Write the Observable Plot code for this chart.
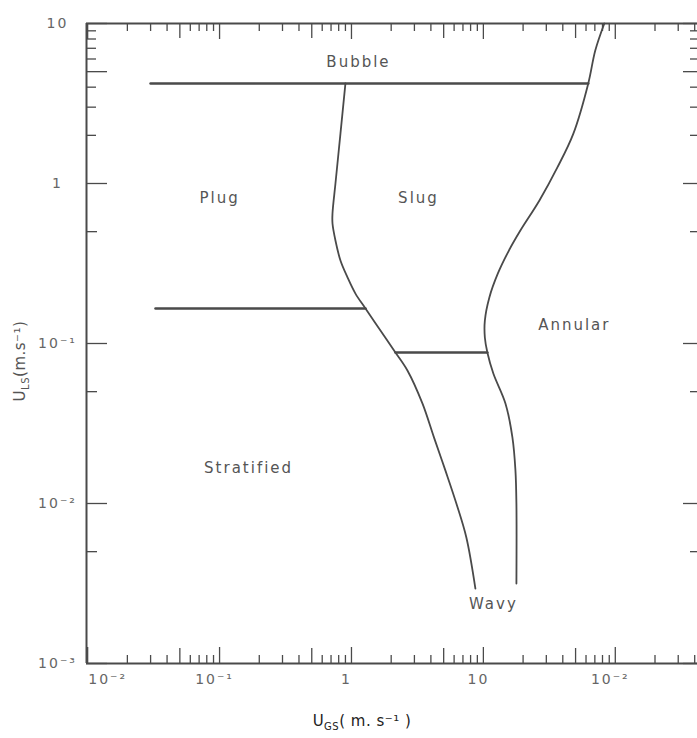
<!DOCTYPE html>
<html><head><meta charset="utf-8">
<script src="https://cdn.jsdelivr.net/npm/d3@7"></script>
<script src="https://cdn.jsdelivr.net/npm/@observablehq/plot@0.6"></script>
<style>
body{margin:0;background:#fff}
#chart svg text{letter-spacing:2px}
#chart svg text.axis-title{letter-spacing:0.5px}
</style>
</head><body><div id="chart"></div>
<script>
// ---- data ----
const regionNames = ["Bubble", "Plug", "Slug", "Annular", "Stratified", "Wavy"];
const regionX = [1.13, 0.1, 3.22, 48.9, 0.166, 11.9];
const regionY = [5.71, 0.806, 0.806, 0.1296, 0.01655, 0.00234];

const leftCurveX = [0.900, 0.825, 0.756, 0.718, 0.718, 0.756, 0.825, 0.933, 1.072, 1.277, 1.658, 2.154, 2.656, 3.45, 4.22, 5.15, 6.24, 7.43, 8.70];
const leftCurveY = [4.22, 2.05, 1.0, 0.650, 0.562, 0.440, 0.330, 0.259, 0.205, 0.1655, 0.1205, 0.0879, 0.0678, 0.0422, 0.0259, 0.0161, 0.0100, 0.00613, 0.00294];

const rightCurveX = [82.6, 70.5, 62.4, 48.1, 36.4, 26.6, 19.07, 15.61, 12.88, 11.10, 10.26, 10.26, 10.72, 11.9, 14.7, 16.6, 17.5, 17.8, 17.8];
const rightCurveY = [10.0, 6.78, 4.22, 2.05, 1.26, 0.783, 0.508, 0.381, 0.274, 0.194, 0.139, 0.109, 0.0879, 0.0649, 0.0422, 0.0259, 0.0161, 0.0100, 0.00316];

const bubbleLineX = [0.030, 62.4];
const bubbleLineY = [4.22, 4.22];
const stratLineX = [0.0327, 1.277];
const stratLineY = [0.1655, 0.1655];
const wavyLineX = [2.154, 10.72];
const wavyLineY = [0.0879, 0.0879];

const xMajor = [0.01, 0.1, 1, 10, 100];
const xTickLabels = ["10⁻²", "10⁻¹", "1", "10", "10⁻²"];
const yMajor = [0.001, 0.01, 0.1, 1, 10];
const yTickLabels = ["10⁻³", "10⁻²", "10⁻¹", "1", "10"];
const xDomain = [0.0098, 420];
const yDomain = [0.001, 10];

// minor tick values (log axis subdivisions)
const xDecades = [0.01, 0.1, 1, 10, 100];
const xHalf = xDecades.map(d => d * 5).filter(v => v < xDomain[1]);
const xMinor = xDecades.flatMap(d => [2, 3, 4, 6, 7, 8, 9].map(m => d * m)).filter(v => v < xDomain[1]);
const yHalfShort = [0.005, 0.05, 0.5];
const yHalfLong = [5];
const yMinor = [2, 3, 4, 6, 7, 8, 9];

// ---- layout ----
const W = 697, H = 738, mL = 86, mR = 0, mT = 23, mB = 75;
const fw = W - mL - mR, fh = H - mT - mB;
const ink = "#4a4a4a";
const font = "DejaVu Sans, sans-serif";

const pts = (xs, ys) => xs.map((x, i) => ({x, y: ys[i]})).sort((a, b) => a.y - b.y);

const tickX = (vals, len, where) => Plot.ruleX(vals, {x: d => d, stroke: ink, strokeWidth: 1.3,
  ...(where === "bottom" ? {insetTop: fh - len} : {insetBottom: fh - len})});
const tickY = (vals, len, where) => Plot.ruleY(vals, {y: d => d, stroke: ink, strokeWidth: 1.3,
  ...(where === "left" ? {insetRight: fw - len} : {insetLeft: fw - len})});

const chart = Plot.plot({
  width: W, height: H,
  marginLeft: mL, marginRight: mR, marginTop: mT, marginBottom: mB,
  style: {fontFamily: font, background: "#fff"},
  x: {type: "log", domain: xDomain, axis: null},
  y: {type: "log", domain: yDomain, axis: null},
  marks: [
    // frame (left, top, bottom)
    Plot.ruleX([xDomain[0]], {x: d => d, stroke: ink, strokeWidth: 2}),
    Plot.ruleY([yDomain[0]], {y: d => d, stroke: ink, strokeWidth: 2.2}),
    Plot.ruleY([yDomain[1]], {y: d => d, stroke: ink, strokeWidth: 2}),
    // x ticks bottom/top
    tickX(xMajor, 16, "bottom"), tickX(xHalf, 15, "bottom"), tickX(xMinor, 8, "bottom"),
    tickX(xMajor, 16, "top"), tickX(xHalf, 15, "top"), tickX(xMinor, 8, "top"),
    // y ticks left/right
    tickY(yMajor, 21, "left"), tickY(yHalfLong, 21, "left"), tickY(yHalfShort, 11, "left"), tickY(yMinor, 10, "left"),
    tickY(yMajor, 14, "right"), tickY(yHalfLong, 14, "right"), tickY(yHalfShort, 7, "right"), tickY(yMinor, 7, "right"),
    // tick labels
    Plot.text(xMajor.slice(0, 1), {x: d => d, text: xTickLabels.slice(0, 1), frameAnchor: "bottom", dy: 20, dx: 20,
      fontSize: 14, fill: "#666"}),
    Plot.text(xMajor.slice(1), {x: d => d, text: xTickLabels.slice(1), frameAnchor: "bottom", dy: 20, dx: -5,
      fontSize: 14, fill: "#666"}),
    Plot.text(yMajor, {y: d => d, text: yTickLabels, frameAnchor: "left", dx: -29, textAnchor: "middle",
      fontSize: 14, fill: "#666"}),
    // regime boundaries
    Plot.line(pts(bubbleLineX, bubbleLineY), {x: "x", y: "y", stroke: ink, strokeWidth: 2.6}),
    Plot.line(pts(stratLineX, stratLineY), {x: "x", y: "y", stroke: ink, strokeWidth: 2.6}),
    Plot.line(pts(wavyLineX, wavyLineY), {x: "x", y: "y", stroke: ink, strokeWidth: 2.6}),
    Plot.line(pts(leftCurveX, leftCurveY), {x: "x", y: "y", stroke: ink, strokeWidth: 1.8, curve: "catmull-rom"}),
    Plot.line(pts(rightCurveX, rightCurveY), {x: "x", y: "y", stroke: ink, strokeWidth: 1.8, curve: "catmull-rom"}),
    // region labels
    Plot.text(regionNames, {x: (d, i) => regionX[i], y: (d, i) => regionY[i], text: d => d,
      fontSize: 15, fill: "#555"})
  ]
});

document.getElementById("chart").appendChild(chart);

// axis titles with subscripts
const svg = d3.select(chart);
const xt = svg.append("text").attr("class", "axis-title").attr("x", 362).attr("y", 726).attr("text-anchor", "middle")
  .attr("font-family", font).attr("font-size", 15).attr("fill", "#222");
xt.append("tspan").text("U");
xt.append("tspan").attr("font-size", 10).attr("dy", 4).text("GS");
xt.append("tspan").attr("dy", -4).text("( m. s⁻¹ )");

const yt = svg.append("text").attr("class", "axis-title").attr("transform", "translate(25,361) rotate(-90)").attr("text-anchor", "middle")
  .attr("font-family", font).attr("font-size", 15).attr("fill", "#555");
yt.append("tspan").text("U");
yt.append("tspan").attr("font-size", 10).attr("dy", 4).text("LS");
yt.append("tspan").attr("dy", -4).text("(m.s⁻¹)");
</script>
</body></html>
